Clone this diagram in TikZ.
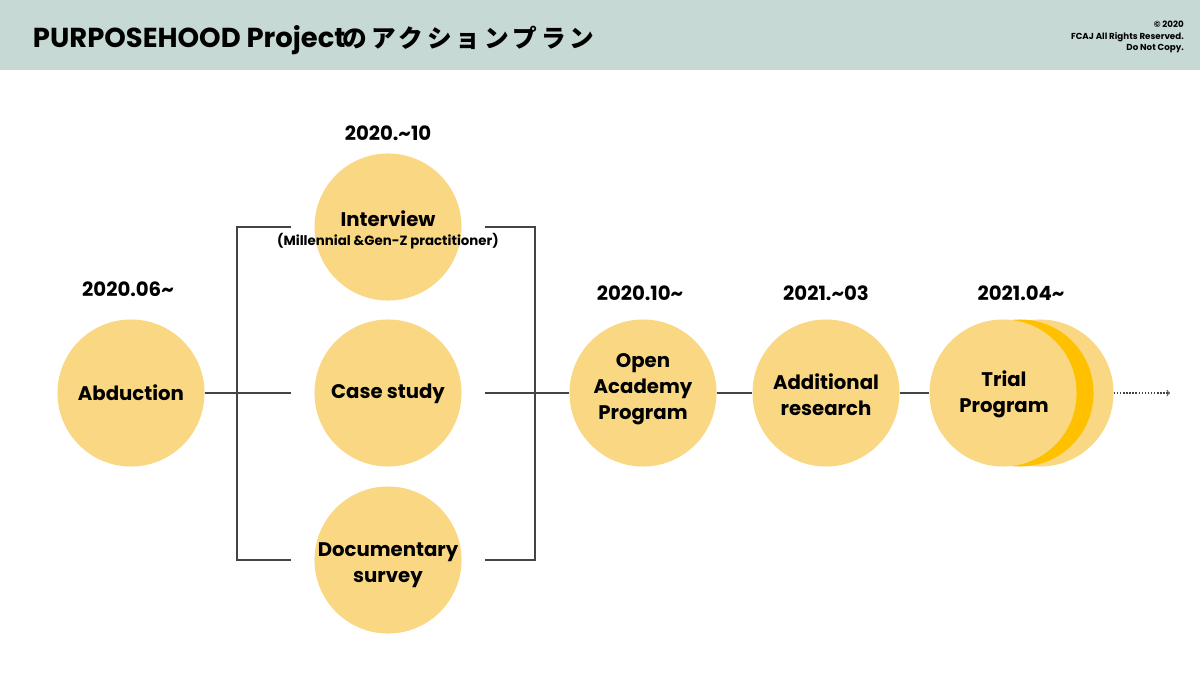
\documentclass[tikz,border=0pt]{standalone}
\usepackage{fontspec}
\setmainfont{Poppins}
\newfontfamily\jpfont[Scale=0.9,LetterSpace=16]{Noto Sans CJK JP}
\definecolor{headbg}{HTML}{C6D9D4}
\definecolor{phasefill}{HTML}{F9D783}
\definecolor{phasedeep}{HTML}{FFC000}
\definecolor{linkgray}{HTML}{444444}
\begin{document}
\begin{tikzpicture}[x=0.025cm,y=-0.025cm,
  phase/.style={circle,fill=phasefill,minimum size=3.675cm,inner sep=0pt},
  caption/.style={align=center,inner sep=0pt,font=\fontsize{14}{18.4}\selectfont\bfseries},
  stamp/.style={font=\fontsize{14}{16}\selectfont\bfseries},
  link/.style={draw=linkgray,line width=0.75pt}]
\useasboundingbox (0,0) rectangle (1200,675);
\fill [headbg] (0,0) rectangle (1200,70);
\node [anchor=west,font=\fontsize{19.5}{22}\selectfont\bfseries] (title) at (28,40) {PURPOSEHOOD Project{\jpfont\bfseries\kern-2pt のアクションプラン}};
\node [anchor=east,align=right,inner sep=0pt,font=\fontsize{6.2}{8}\selectfont\bfseries] (copy) at (1184,37) {© 2020\\FCAJ All Rights Reserved.\\Do Not Copy.};
% circles
\node [phase] (abd) at (131,393) {};
\node [phase] (intv) at (388,227) {};
\node [phase] (case) at (388,393) {};
\node [phase] (docs) at (388,560) {};
\node [phase] (open) at (643,393) {};
\node [phase] (addl) at (826,393) {};
\node [phase] (trialback) at (1040,393) {};
\node [phase,fill=phasedeep] (trialmid) at (1020,393) {};
\node [phase] (trial) at (1003,393) {};
% texts
\node [caption] (abd-t) at (abd) {Abduction};
\node [caption] (intv-t) at (388,219) {Interview};
\node [caption,font=\fontsize{9.5}{11}\selectfont\bfseries] (intv-s) at (388,241) {(Millennial \&Gen-Z practitioner)};
\node [caption] (case-t) at (388,394) {Case study};
\node [caption] (docs-t) at (388,565) {Documentary\\survey};
\node [caption] (open-t) at (643,389) {Open\\Academy\\Program};
\node [caption] (addl-t) at (826,395) {Additional\\research};
\node [caption] (trial-t) at (1004,394) {Trial\\Program};
% dates
\node [stamp] (d-abd) at (128,289) {2020.06\textasciitilde};
\node [stamp] (d-intv) at (388,133) {2020.\textasciitilde10};
\node [stamp] (d-open) at (640,293) {2020.10\textasciitilde};
\node [stamp] (d-addl) at (826,293) {2021.\textasciitilde03};
\node [stamp] (d-trial) at (1021,293) {2021.04\textasciitilde};
% connectors
\coordinate (lb) at (237,393); \coordinate (rb) at (535,393);
\coordinate (goal) at (1170,393);
\draw [link] (abd.east) -- ([xshift=-0.58cm]case.west);
\draw [link] ([xshift=-0.58cm]intv.west) -- (lb |- intv) -- (lb |- docs) -- ([xshift=-0.58cm]docs.west);
\draw [link] ([xshift=0.58cm]intv.east) -- (rb |- intv) -- (rb |- docs) -- ([xshift=0.58cm]docs.east);
\draw [link] ([xshift=0.58cm]case.east) -- (open.west);
\draw [link] (open.east) -- (addl.west);
\draw [link] (addl.east) -- (trial.west);
\draw [link,dash pattern=on 1pt off 1.2pt,->] (trialback.east) -- (goal);
\end{tikzpicture}
\end{document}
